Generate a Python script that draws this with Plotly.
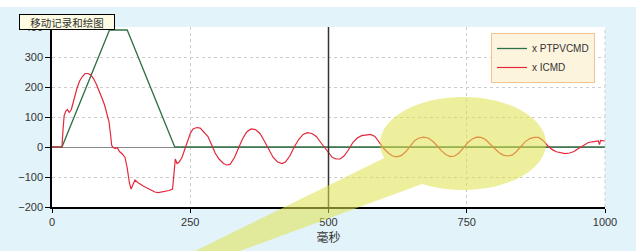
import math
import plotly.graph_objects as go

# ---- data ----
ptp_x = [0, 18, 104, 136, 222, 1000]
ptp_y = [0, 0, 390, 390, 0, 0]

icmd_x = [0, 18, 20, 22, 25, 28, 31, 35, 40, 45, 50, 55, 60, 65, 70, 75, 80, 85, 90, 95,
          100, 103, 106, 108, 110, 114, 118, 122, 128, 132, 136, 140, 143, 147, 150, 155,
          160, 165, 170, 175, 180, 186, 192, 198, 205, 212, 218, 221, 223, 226, 230, 235,
          240, 245, 250, 255, 262, 268, 275, 282, 288, 295, 302, 310, 316, 322, 330, 337,
          344, 352, 360, 368, 376, 384, 392, 400, 408, 416, 422, 430, 438, 446, 454, 462,
          470, 478, 486, 494, 500, 507, 514, 521, 528, 536, 544, 552, 560, 568, 576, 584,
          592, 600, 608, 616, 624, 632, 640, 648, 656, 664, 672, 680, 688, 696, 704, 712,
          720, 728, 736, 744, 752, 760, 768, 776, 784, 792, 800, 808, 816, 824, 832, 840,
          848, 856, 864, 872, 880, 888, 896, 904, 912, 920, 928, 936, 944, 952, 960, 970,
          980, 988, 990, 992, 1000]
icmd_y = [0, 0, 60, 105, 120, 125, 115, 125, 160, 195, 220, 235, 245, 245, 240, 228, 210,
          190, 165, 140, 110, 85, 40, 5, 0, -5, -2, -15, -25, -35, -70, -120, -140, -120,
          -110, -118, -125, -130, -135, -140, -145, -150, -152, -150, -148, -145, -140, -90,
          -40, -55, -50, -35, -10, 20, 45, 60, 65, 63, 50, 35, 10, -20, -40, -55, -60, -58,
          -35, -5, 25, 50, 60, 58, 45, 20, -10, -35, -50, -55, -50, -30, 0, 25, 42, 48, 45,
          35, 15, -5, -20, -35, -40, -40, -30, -10, 15, 30, 38, 40, 42, 35, 15, -5, -20,
          -30, -33, -28, -15, 5, 22, 30, 33, 30, 20, 5, -12, -25, -32, -30, -20, -3, 15, 27,
          33, 32, 25, 10, -5, -18, -27, -30, -27, -15, 2, 18, 28, 32, 32, 22, 5, -8, -16,
          -20, -22, -20, -15, -5, 5, 15, 18, 20, 8, 22, 20]

x_ticks = [0, 250, 500, 750, 1000]
y_ticks = [-200, -100, 0, 100, 200, 300, 400]
series_names = ["x PTPVCMD", "x ICMD"]
title_text = "移动记录和绘图"
x_title = "毫秒"

# ---- layout geometry ----
W, H = 636, 251
ML, MR, MT, MB = 52, 31, 27, 44
PW, PH = W - ML - MR, H - MT - MB


def px2paper(px, py):
    return (px - ML) / PW, (H - MB - py) / PH


# combined callout (ellipse + wedge) path in paper coordinates
cx, cy, rx, ry = 463, 143.5, 83, 46.5
a1, a2 = math.radians(161.7), math.radians(479.5)
pts = [(195, 251)]
n = 60
for i in range(n + 1):
    a = a1 + (a2 - a1) * i / n
    pts.append((cx + rx * math.cos(a), cy + ry * math.sin(a)))
pts.append((240, 251))
path = ""
for i, (px, py) in enumerate(pts):
    u, v = px2paper(px, py)
    path += ("M" if i == 0 else "L") + f"{u:.4f},{v:.4f} "
path += "Z"

fig = go.Figure()
fig.add_trace(go.Scatter(x=ptp_x, y=ptp_y, mode="lines", name=series_names[0],
                         line=dict(color="#2f7046", width=1.3)))
fig.add_trace(go.Scatter(x=icmd_x, y=icmd_y, mode="lines", name=series_names[1],
                         line=dict(color="#e2283a", width=1.2)))

fig.update_layout(
    width=W, height=H,
    margin=dict(l=ML, r=MR, t=MT, b=MB, autoexpand=False),
    paper_bgcolor="#e3f3fa",
    plot_bgcolor="#ffffff",
    font=dict(family="Liberation Sans, Arial, sans-serif", size=11, color="#333333"),
    showlegend=True,
    legend=dict(x=px2paper(491, 33)[0], y=px2paper(491, 33)[1], xanchor="left", yanchor="top",
                bgcolor="#fdf4de", bordercolor="#eec58f", borderwidth=1,
                font=dict(size=10, color="#333333"), tracegroupgap=0),
    xaxis=dict(range=[0, 1000], tickvals=x_ticks, ticks="outside", ticklen=4,
               tickcolor="#000000", showline=True, linecolor="#000000", linewidth=1.5,
               showgrid=True, gridcolor="#cccccc", griddash="dot", zeroline=False,
               title=dict(text=x_title, font=dict(family="Noto Sans CJK SC", size=12), standoff=2)),
    yaxis=dict(range=[-200, 400], tickvals=y_ticks, ticks="outside", ticklen=5,
               tickcolor="#000000", showline=True, linecolor="#000000", linewidth=1.5,
               showgrid=True, gridcolor="#cccccc", griddash="dot",
               zeroline=True, zerolinecolor="#8a8a8a", zerolinewidth=1),
    shapes=[
        dict(type="rect", xref="paper", yref="paper", x0=px2paper(0, 0)[0], x1=px2paper(W, 0)[0],
             y0=px2paper(0, 7)[1], y1=px2paper(0, 0)[1], fillcolor="#ffffff", line_width=0,
             layer="below"),
        dict(type="line", xref="paper", yref="paper", x0=1, x1=1, y0=0, y1=1,
             line=dict(color="#cccccc", width=1, dash="dot")),
        dict(type="line", xref="x", yref="paper", x0=500, x1=500, y0=0, y1=1,
             line=dict(color="#333333", width=1.5)),
        dict(type="path", xref="paper", yref="paper", path=path,
             fillcolor="#dfe24a", opacity=0.55, line_width=0, layer="above"),
    ],
    annotations=[
        dict(xref="paper", yref="paper", x=px2paper(19, 14)[0], y=px2paper(19, 14)[1],
             xanchor="left", yanchor="top", text=title_text, showarrow=False,
             font=dict(family="Noto Sans CJK SC", size=10.5, color="#333333"),
             bgcolor="#fdfbe2", bordercolor="#000000", borderwidth=1, borderpad=0,
             width=94, height=14, align="center"),
    ],
)

fig.write_html("out.html", config={"displayModeBar": False},
               post_script="document.body.style.margin='0';document.body.style.padding='0';")
